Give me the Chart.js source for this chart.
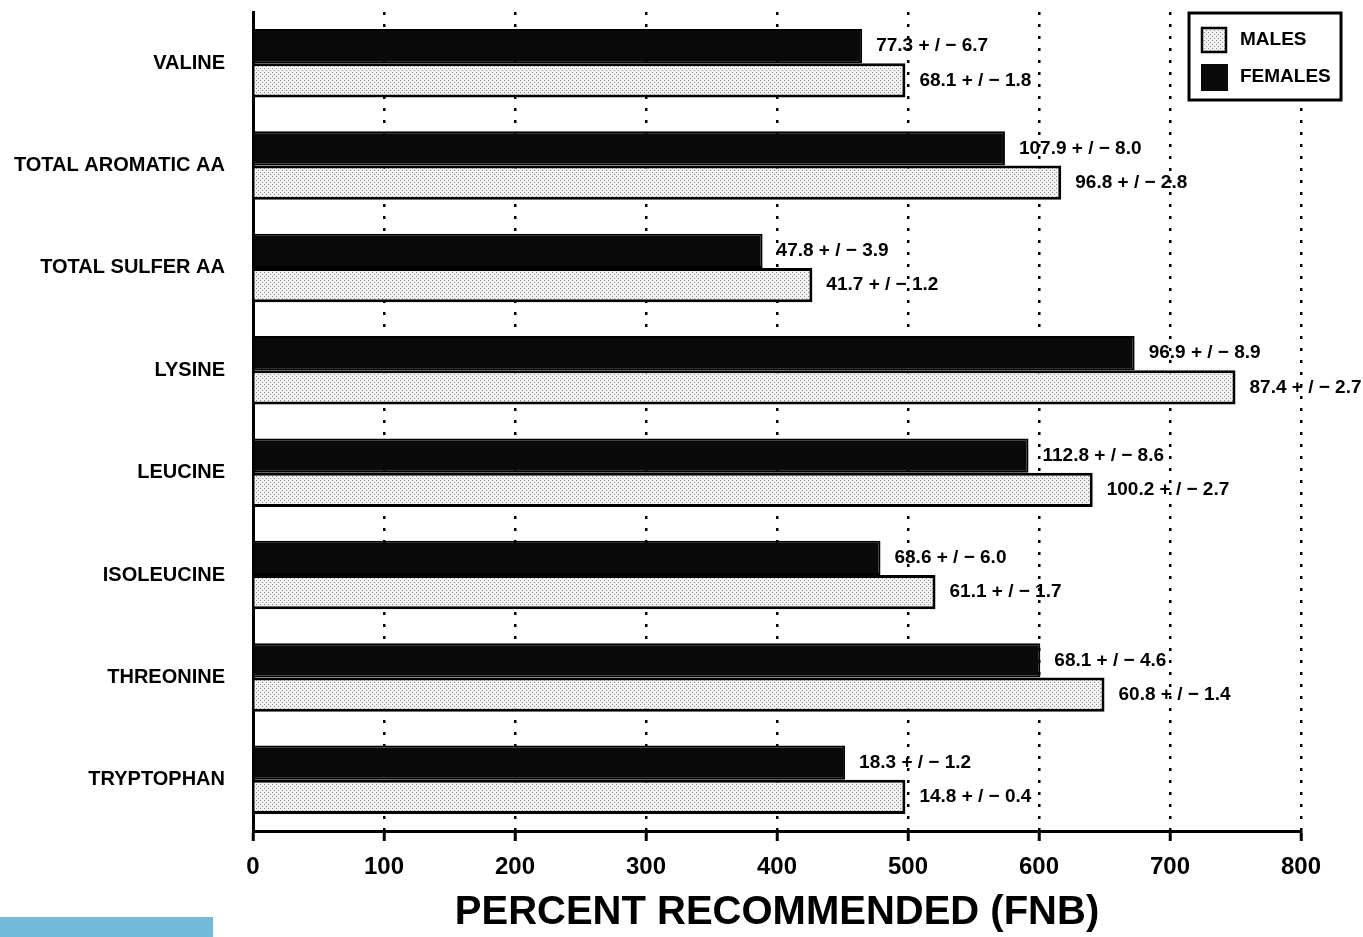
<!DOCTYPE html>
<html>
<head>
<meta charset="utf-8">
<title>Percent Recommended (FNB)</title>
<script src="https://cdn.jsdelivr.net/npm/chart.js"></script>
<style>
  html, body { margin: 0; padding: 0; background: #fff; }
  #wrap { position: relative; width: 1363px; height: 937px; }
  #strip { position: absolute; left: 0; top: 917px; width: 213px; height: 20px; background: #70bada; }
</style>
</head>
<body>
<div id="wrap">
  <canvas id="chart" width="1363" height="937"></canvas>
  <div id="strip"></div>
</div>
<script>
const categories = ["VALINE", "TOTAL AROMATIC AA", "TOTAL SULFER AA", "LYSINE", "LEUCINE", "ISOLEUCINE", "THREONINE", "TRYPTOPHAN"];
const femaleValues = [465, 574, 389, 673, 592, 479, 601, 452];
const maleValues = [498, 617, 427, 750, 641, 521, 650, 498];
const femaleLabels = ["77.3 + / \u2212 6.7", "107.9 + / \u2212 8.0", "47.8 + / \u2212 3.9", "96.9 + / \u2212 8.9", "112.8 + / \u2212 8.6", "68.6 + / \u2212 6.0", "68.1 + / \u2212 4.6", "18.3 + / \u2212 1.2"];
const maleLabels = ["68.1 + / \u2212 1.8", "96.8 + / \u2212 2.8", "41.7 + / \u2212 1.2", "87.4 + / \u2212 2.7", "100.2 + / \u2212 2.7", "61.1 + / \u2212 1.7", "60.8 + / \u2212 1.4", "14.8 + / \u2212 0.4"];
const xTicks = [0, 100, 200, 300, 400, 500, 600, 700, 800];

// dotted grey fill for the male bars
const makePattern = () => {
  const c = document.createElement("canvas");
  c.width = 4; c.height = 4;
  const g = c.getContext("2d");
  g.fillStyle = "#f2f2f2";
  g.fillRect(0, 0, 4, 4);
  g.fillStyle = "#8a8a8a";
  g.fillRect(0, 0, 1, 1);
  g.fillRect(2, 2, 1, 1);
  return g.createPattern(c, "repeat");
};
const malePattern = makePattern();

const font = "'Liberation Sans', Arial, sans-serif";

const valueLabels = {
  id: "valueLabels",
  afterDatasetsDraw(chart) {
    const ctx = chart.ctx;
    ctx.save();
    ctx.font = "bold 19px " + font;
    ctx.fillStyle = "#000";
    ctx.textBaseline = "middle";
    ctx.textAlign = "left";
    const sets = [femaleLabels, maleLabels];
    chart.data.datasets.forEach((ds, i) => {
      chart.getDatasetMeta(i).data.forEach((bar, j) => {
        ctx.fillText(sets[i][j], bar.x + 14, bar.y);
      });
    });
    ctx.restore();
  }
};

const boxLegend = {
  id: "boxLegend",
  afterDraw(chart) {
    const ctx = chart.ctx;
    ctx.save();
    ctx.fillStyle = "#fff";
    ctx.fillRect(1189, 13, 152, 87);
    ctx.lineWidth = 3;
    ctx.strokeStyle = "#000";
    ctx.strokeRect(1189, 13, 152, 87);
    // males
    ctx.fillStyle = malePattern;
    ctx.fillRect(1202, 28, 24, 24);
    ctx.lineWidth = 2.5;
    ctx.strokeRect(1202, 28, 24, 24);
    // females
    ctx.fillStyle = "#0a0a0a";
    ctx.fillRect(1201, 64, 27, 27);
    ctx.fillStyle = "#000";
    ctx.font = "bold 19px " + font;
    ctx.textBaseline = "middle";
    ctx.fillText("MALES", 1240, 40);
    ctx.fillText("FEMALES", 1240, 77);
    ctx.restore();
  }
};

new Chart(document.getElementById("chart"), {
  type: "bar",
  data: {
    labels: categories,
    datasets: [
      {
        label: "FEMALES",
        data: femaleValues,
        backgroundColor: "#0a0a0a",
        borderColor: "#000",
        borderWidth: 2
      },
      {
        label: "MALES",
        data: maleValues,
        backgroundColor: malePattern,
        borderColor: "#000",
        borderWidth: 3
      }
    ]
  },
  options: {
    indexAxis: "y",
    responsive: false,
    animation: false,
    categoryPercentage: 0.67,
    barPercentage: 1,
    layout: { padding: { top: 8, right: 62, left: 0, bottom: 0 } },
    plugins: {
      legend: { display: false },
      tooltip: { enabled: false }
    },
    scales: {
      x: {
        min: 0,
        max: 800,
        afterBuildTicks: (scale) => { scale.ticks = xTicks.map((v) => ({ value: v })); },
        afterFit: (scale) => { scale.height = 106; },
        border: { display: true, color: "#000", width: 3, dash: [3, 9] },
        grid: {
          color: "#000",
          lineWidth: 2.5,
          tickBorderDash: [],
          tickColor: "#000",
          tickWidth: 3,
          tickLength: 10
        },
        ticks: {
          color: "#000",
          padding: 12,
          font: { family: font, size: 24, weight: "bold" }
        },
        title: {
          display: true,
          text: "PERCENT RECOMMENDED (FNB)",
          color: "#000",
          padding: { top: 2, bottom: 0 },
          font: { family: font, size: 40, weight: "bold" }
        }
      },
      y: {
        afterFit: (scale) => { scale.width = 253; },
        border: { display: true, color: "#000", width: 3 },
        grid: {
          display: true,
          drawOnChartArea: false,
          drawTicks: true,
          tickLength: 28,
          tickColor: "rgba(0,0,0,0)"
        },
        ticks: {
          color: "#000",
          padding: 0,
          font: { family: font, size: 20, weight: "bold" }
        }
      }
    }
  },
  plugins: [valueLabels, boxLegend]
});
</script>
</body>
</html>
